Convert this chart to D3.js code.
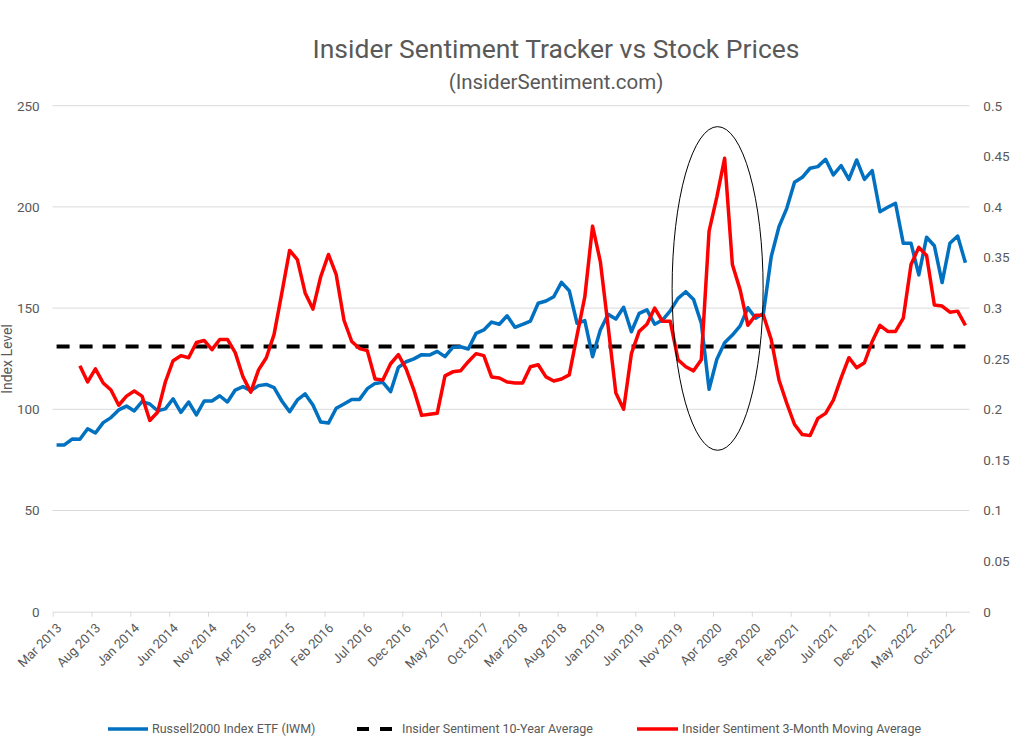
<!DOCTYPE html>
<html>
<head>
<meta charset="utf-8">
<script src="https://cdn.jsdelivr.net/npm/d3@7"></script>
<style>
  body { margin: 0; background: #fff; }
  text { font-family: Roboto, "Noto Sans", sans-serif; fill: #595959; }
</style>
</head>
<body>
<div id="chart"></div>
<script>
// chart size
var W = 1018, H = 747;

// months Mar 2013 .. Dec 2022 (one slot per month)
var firstMonth = new Date(2013, 2, 1);
var months = d3.timeMonth.range(firstMonth, new Date(2023, 0, 1));

// axis labels every 5 months
var xLabels = ["Mar 2013", "Aug 2013", "Jan 2014", "Jun 2014", "Nov 2014", "Apr 2015",
  "Sep 2015", "Feb 2016", "Jul 2016", "Dec 2016", "May 2017", "Oct 2017",
  "Mar 2018", "Aug 2018", "Jan 2019", "Jun 2019", "Nov 2019", "Apr 2020",
  "Sep 2020", "Feb 2021", "Jul 2021", "Dec 2021", "May 2022", "Oct 2022"];
var leftTicks = [0, 50, 100, 150, 200, 250];
var rightTicks = [0, 0.05, 0.1, 0.15, 0.2, 0.25, 0.3, 0.35, 0.4, 0.45, 0.5];

// Russell2000 ETF (IWM), left axis
var iwm = [82.4, 82.4, 85.3, 85.2, 90.4, 88.3, 93.4, 95.9, 99.7, 101.6,
  99.2, 103.8, 102.6, 99.3, 100.2, 105.2, 98.5, 103.6, 97.2, 104.1,
  104.1, 106.7, 103.6, 109.5, 111.2, 109.2, 111.7, 112.3, 110.7, 104.1,
  98.8, 104.6, 107.6, 102.1, 93.7, 93.2, 100.5, 102.6, 104.9, 104.9,
  110.2, 112.8, 113.3, 108.7, 120.7, 123.5, 124.9, 127.0, 126.8, 128.6,
  126.0, 130.6, 130.9, 129.8, 137.5, 139.2, 143.1, 142.0, 146.2, 140.5,
  142.0, 143.6, 152.4, 153.5, 155.6, 162.7, 158.6, 142.5, 143.8, 126.0,
  139.2, 146.9, 144.6, 150.4, 138.3, 147.4, 149.1, 142.0, 144.1, 148.6,
  154.8, 158.1, 154.3, 142.5, 109.9, 124.7, 132.9, 136.7, 141.2, 150.2,
  145.0, 147.4, 175.4, 190.2, 199.3, 212.2, 214.6, 219.1, 219.9, 223.5,
  215.8, 220.4, 213.6, 223.2, 213.6, 217.9, 197.6, 199.8, 201.8, 182.0,
  182.0, 166.4, 185.0, 180.8, 162.6, 182.0, 185.6, 172.4];

// insider sentiment 3-month moving average, right axis (starts Jun 2013)
var sentiment = [null, null, null, 0.243, 0.227, 0.240, 0.226, 0.219, 0.204, 0.213,
  0.218, 0.213, 0.189, 0.197, 0.227, 0.248, 0.253, 0.251, 0.266, 0.268,
  0.259, 0.269, 0.269, 0.256, 0.232, 0.217, 0.239, 0.251, 0.274, 0.315,
  0.357, 0.348, 0.315, 0.299, 0.331, 0.353, 0.333, 0.288, 0.267, 0.260,
  0.258, 0.230, 0.229, 0.245, 0.254, 0.240, 0.219, 0.194, 0.195, 0.196,
  0.233, 0.237, 0.238, 0.247, 0.255, 0.253, 0.232, 0.231, 0.227, 0.226,
  0.226, 0.242, 0.244, 0.232, 0.228, 0.230, 0.234, 0.273, 0.311, 0.381,
  0.346, 0.282, 0.216, 0.200, 0.255, 0.277, 0.284, 0.300, 0.287, 0.287,
  0.249, 0.242, 0.238, 0.249, 0.376, 0.410, 0.448, 0.343, 0.318, 0.283,
  0.293, 0.293, 0.269, 0.229, 0.206, 0.185, 0.175, 0.174, 0.191, 0.196,
  0.209, 0.231, 0.251, 0.241, 0.246, 0.267, 0.283, 0.277, 0.277, 0.290,
  0.343, 0.360, 0.352, 0.303, 0.302, 0.296, 0.297, 0.283];

// 10-year average of insider sentiment
var tenYearAvg = 0.262;

var legendNames = ["Russell2000 Index ETF (IWM)", "Insider Sentiment 10-Year Average",
  "Insider Sentiment 3-Month Moving Average"];

var svg = d3.select("#chart").append("svg")
  .attr("width", W).attr("height", H);
svg.append("rect").attr("width", W).attr("height", H).attr("fill", "#fff");

var plotL = 52.7, plotR = 969.3, plotT = 105.7, plotB = 611.7;

// x: slot index -> pixel, points sit in the middle of their month slot
var x = d3.scaleLinear().domain([0, months.length]).range([plotL, plotR]);
var yL = d3.scaleLinear().domain([0, 250]).range([plotB, plotT]);
var yR = d3.scaleLinear().domain([0, 0.5]).range([plotB, plotT]);

// gridlines
svg.append("g").selectAll("line").data(leftTicks.slice(1)).enter().append("line")
  .attr("x1", plotL).attr("x2", plotR)
  .attr("y1", function(d) { return yL(d); }).attr("y2", function(d) { return yL(d); })
  .attr("stroke", "#d9d9d9").attr("stroke-width", 1);

// left axis
var gl = svg.append("g").attr("transform", "translate(" + plotL + ",0)")
  .call(d3.axisLeft(yL).tickValues(leftTicks).tickSize(0).tickPadding(13));
gl.select(".domain").remove();
gl.selectAll("text").style("font-size", "13.5px").style("font-family", "Roboto").attr("fill", "#595959");

// right axis
var gr = svg.append("g").attr("transform", "translate(" + plotR + ",0)")
  .call(d3.axisRight(yR).tickValues(rightTicks).tickSize(0).tickPadding(14)
    .tickFormat(function(d) { return d3.format("~g")(d); }));
gr.select(".domain").remove();
gr.selectAll("text").style("font-size", "13.5px").style("font-family", "Roboto").attr("fill", "#595959");

// bottom axis
var tickIdx = xLabels.map(function(d, k) { return k * 5; });
var gb = svg.append("g").attr("transform", "translate(0," + plotB + ")")
  .call(d3.axisBottom(x).tickValues(tickIdx).tickSize(5).tickSizeOuter(0)
    .tickFormat(function(d, k) { return xLabels[k]; }));
gb.select(".domain").attr("stroke", "#d9d9d9");
gb.selectAll(".tick line").attr("stroke", "#d9d9d9");
gb.selectAll("text")
  .style("font-size", "13px").style("font-family", "Roboto").attr("fill", "#595959")
  .attr("text-anchor", "end")
  .attr("x", 0).attr("y", 0).attr("dy", "0.35em")
  .attr("transform", "translate(6,14) rotate(-45)");

// axis title
svg.append("text")
  .attr("transform", "translate(12,359) rotate(-90)")
  .attr("text-anchor", "middle")
  .style("font-size", "14px")
  .text("Index Level");

// lines
function px(d, i) { return x(i + 0.5); }

var avgLine = d3.line().x(px).y(function() { return yR(tenYearAvg); });
svg.append("path").datum(months)
  .attr("d", avgLine)
  .attr("fill", "none").attr("stroke", "#000").attr("stroke-width", 4)
  .attr("stroke-dasharray", "13,10");

var iwmLine = d3.line().x(px).y(function(d) { return yL(d); });
svg.append("path").datum(iwm)
  .attr("d", iwmLine)
  .attr("fill", "none").attr("stroke", "#0070C0").attr("stroke-width", 3.5)
  .attr("stroke-linejoin", "round");

var sentLine = d3.line().defined(function(d) { return d != null; })
  .x(px).y(function(d) { return yR(d); });
svg.append("path").datum(sentiment)
  .attr("d", sentLine)
  .attr("fill", "none").attr("stroke", "#FF0000").attr("stroke-width", 3.5)
  .attr("stroke-linejoin", "round");

// ellipse marking the 2020 spike
svg.append("ellipse")
  .attr("cx", x(85.6)).attr("cy", yL(159.7))
  .attr("rx", 45.5).attr("ry", yL(80) - yL(159.7) + 0.5)
  .attr("fill", "none").attr("stroke", "#000").attr("stroke-width", 1);

// title
svg.append("text").attr("x", 556).attr("y", 58).attr("text-anchor", "middle")
  .style("font-size", "26.5px").text("Insider Sentiment Tracker vs Stock Prices");
svg.append("text").attr("x", 556).attr("y", 89).attr("text-anchor", "middle")
  .style("font-size", "20.5px").text("(InsiderSentiment.com)");

// legend
var lg = svg.append("g");
var legendX = [108, 357, 637];
lg.append("line").attr("x1", legendX[0]).attr("x2", legendX[0] + 40).attr("y1", 729).attr("y2", 729)
  .attr("stroke", "#0070C0").attr("stroke-width", 3.5);
lg.append("line").attr("x1", legendX[1]).attr("x2", legendX[1] + 36).attr("y1", 729).attr("y2", 729)
  .attr("stroke", "#000").attr("stroke-width", 4).attr("stroke-dasharray", "12,11");
lg.append("line").attr("x1", legendX[2]).attr("x2", legendX[2] + 41).attr("y1", 729).attr("y2", 729)
  .attr("stroke", "#FF0000").attr("stroke-width", 3.5);
var textX = [152, 402, 682];
lg.selectAll("text.leg").data(legendNames).enter().append("text")
  .attr("class", "leg")
  .attr("x", function(d, i) { return textX[i]; })
  .attr("y", 729).attr("dy", "0.35em")
  .style("font-size", "12.5px")
  .text(function(d) { return d; });
</script>
</body>
</html>
